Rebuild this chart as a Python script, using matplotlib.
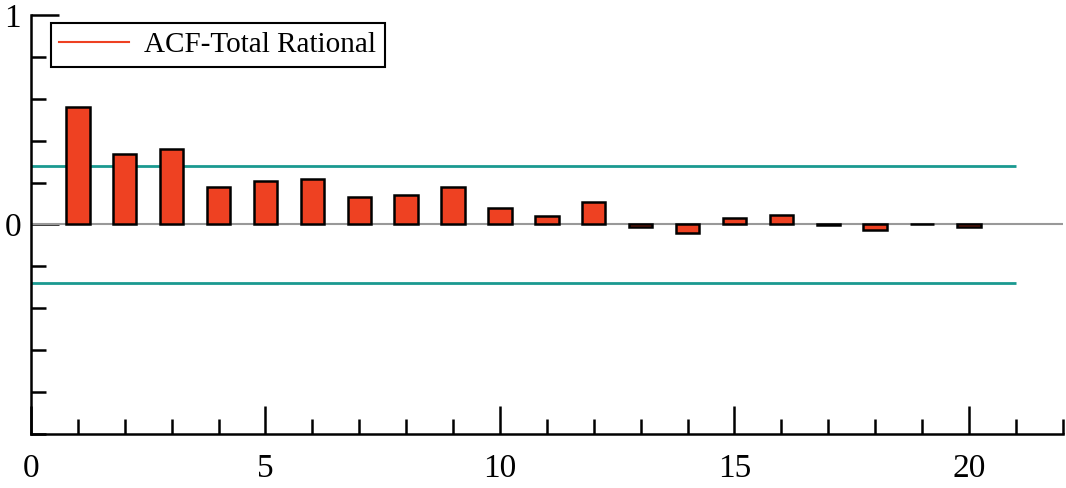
import numpy as np
import matplotlib
matplotlib.use("Agg")
import matplotlib.pyplot as plt
from matplotlib.lines import Line2D

lags = list(range(1, 21))
acf = [0.563, 0.336, 0.359, 0.180, 0.207, 0.218, 0.130, 0.142, 0.180, 0.079,
       0.041, 0.106, -0.010, -0.039, 0.030, 0.043, -0.002, -0.028, 0.002, -0.014]
band = 0.28
label = "ACF-Total Rational"

plt.rcParams['font.family'] = ['Liberation Serif', 'DejaVu Serif']

fig = plt.figure(figsize=(10.66, 4.88), dpi=100)
ax = fig.add_axes([0.029, 0.111, 0.968, 0.858])

ax.bar(lags, acf, width=0.5, color='#ee4122', edgecolor='black', linewidth=1.8, zorder=3)
ax.axhline(0, color='#999999', linewidth=1.5, zorder=2)
ax.hlines([band, -band], 0, 21, color='#1a9990', linewidth=2, zorder=2)

ax.set_xlim(0, 22)
ax.set_ylim(-1, 1)
for s in ['top', 'right']:
    ax.spines[s].set_visible(False)
for s in ['left', 'bottom']:
    ax.spines[s].set_linewidth(1.8)

ax.set_xticks([0, 5, 10, 15, 20])
ax.set_xticks(range(0, 23), minor=True)
ax.set_yticks([0, 1])
ax.set_yticks(np.arange(-1, 1.01, 0.2), minor=True)
ax.tick_params(which='major', direction='in', length=20, width=1.8, labelsize=24)
ax.tick_params(which='minor', direction='in', length=11, width=1.8)
ax.tick_params(axis='x', which='major', pad=14)
ax.tick_params(axis='y', which='major', pad=7)

h = Line2D([], [], color='#ee4122', linewidth=1.5)
leg = ax.legend([h], [label], loc='upper left', bbox_to_anchor=(0.019, 0.981),
                borderaxespad=0, fontsize=21, fancybox=False, edgecolor='black',
                framealpha=1, handlelength=2.4, handletextpad=0.5, borderpad=0.3)
leg.get_frame().set_linewidth(1.5)

fig.savefig("out.png", dpi=100)
